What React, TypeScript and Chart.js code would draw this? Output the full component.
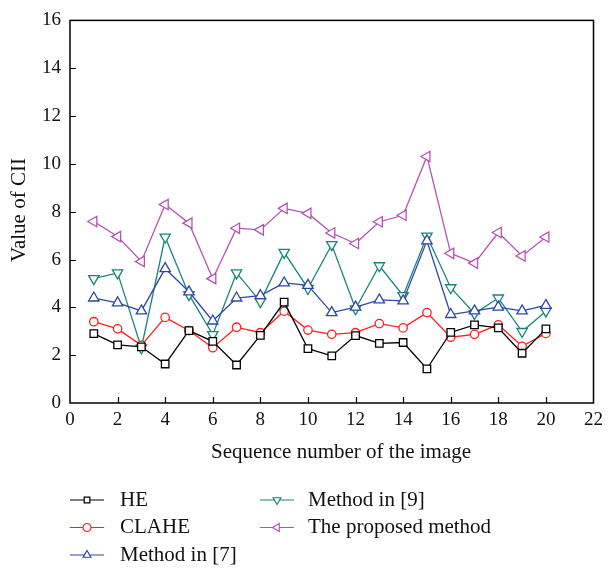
import React, { useEffect, useRef } from "react";
import { Chart, registerables } from "chart.js";

Chart.register(...registerables);

const sequence = [1, 2, 3, 4, 5, 6, 7, 8, 9, 10, 11, 12, 13, 14, 15, 16, 17, 18, 19, 20];
const heValues = [2.9, 2.43, 2.35, 1.63, 3.03, 2.58, 1.59, 2.83, 4.22, 2.27, 1.97, 2.82, 2.49, 2.53, 1.43, 2.95, 3.27, 3.14, 2.08, 3.1];
const claheValues = [3.4, 3.1, 2.41, 3.58, 3.03, 2.31, 3.17, 2.94, 3.84, 3.05, 2.87, 2.94, 3.32, 3.14, 3.78, 2.75, 2.87, 3.27, 2.37, 2.91];
const method7Values = [4.39, 4.19, 3.85, 5.62, 4.65, 3.43, 4.39, 4.49, 5.02, 4.92, 3.78, 4.01, 4.31, 4.27, 6.78, 3.7, 3.85, 4.01, 3.85, 4.08];
const method9Values = [5.2, 5.44, 2.3, 6.94, 4.53, 2.86, 5.44, 4.24, 6.3, 4.79, 6.62, 3.94, 5.74, 4.49, 6.98, 4.82, 3.74, 4.39, 2.99, 3.84];
const proposedValues = [7.59, 6.96, 5.92, 8.3, 7.52, 5.2, 7.31, 7.24, 8.14, 7.93, 7.11, 6.67, 7.58, 7.85, 10.31, 6.26, 5.85, 7.13, 6.15, 6.94];

const seriesNames = ["HE", "CLAHE", "Method in [7]", "Method in [9]", "The proposed method"];
const seriesValues = [heValues, claheValues, method7Values, method9Values, proposedValues];
const seriesColors = ["#000000", "#ff2020", "#2d47a6", "#17857c", "#b452b4"];
const seriesMarkers = ["rect", "circle", "triangle", "triangle", "triangle"];
const seriesRotation = [0, 0, 0, 180, -90];

const xAxisTitle = "Sequence number of the image";
const yAxisTitle = "Value of CII";

const FONT = "'Liberation Serif', 'DejaVu Serif', serif";

function drawMarker(ctx: CanvasRenderingContext2D, style: string, rot: number, x: number, y: number, r: number) {
  ctx.save();
  ctx.translate(x, y);
  ctx.rotate((rot * Math.PI) / 180);
  ctx.beginPath();
  if (style === "rect") {
    const s = r * Math.SQRT1_2;
    ctx.rect(-s, -s, 2 * s, 2 * s);
  } else if (style === "circle") {
    ctx.arc(0, 0, r, 0, Math.PI * 2);
  } else {
    const a = Math.PI / 2;
    for (let k = 0; k < 3; k++) {
      const ang = -a + (k * 2 * Math.PI) / 3;
      const px = Math.cos(ang) * r;
      const py = Math.sin(ang) * r;
      if (k === 0) ctx.moveTo(px, py);
      else ctx.lineTo(px, py);
    }
    ctx.closePath();
  }
  ctx.fillStyle = "#fff";
  ctx.fill();
  ctx.stroke();
  ctx.restore();
}

export default function App() {
  const ref = useRef<HTMLCanvasElement>(null);
  useEffect(() => {
    document.body.style.margin = "0";
    const canvas = ref.current;
    if (!canvas) return;

    const framePlugin = {
      id: "frameAndLegend",
      afterDraw(chart: any) {
        const { ctx, chartArea: a, scales } = chart;
        ctx.save();
        ctx.strokeStyle = "#000";
        ctx.lineWidth = 1.5;
        ctx.strokeRect(a.left, a.top, a.right - a.left, a.bottom - a.top);
        ctx.lineWidth = 1.2;
        ctx.beginPath();
        for (let v = 2; v < 22; v += 2) {
          const px = Math.round(scales.x.getPixelForValue(v)) + 0.5;
          ctx.moveTo(px, a.bottom);
          ctx.lineTo(px, a.bottom - 6);
        }
        for (let v = 2; v < 16; v += 2) {
          const py = Math.round(scales.y.getPixelForValue(v)) + 0.5;
          ctx.moveTo(a.left, py);
          ctx.lineTo(a.left + 6, py);
        }
        ctx.stroke();

        // axis titles
        ctx.fillStyle = "#111";
        ctx.font = `21px ${FONT}`;
        ctx.textAlign = "center";
        ctx.textBaseline = "middle";
        ctx.fillText(xAxisTitle, 341, 452);
        ctx.save();
        ctx.translate(19, 210);
        ctx.rotate(-Math.PI / 2);
        ctx.fillText(yAxisTitle, 0, 0);
        ctx.restore();

        // legend
        ctx.textAlign = "left";
        chart.data.datasets.forEach((ds: any, i: number) => {
          const col = i < 3 ? 0 : 1;
          const row = i < 3 ? i : i - 3;
          const x0 = col === 0 ? 70 : 260;
          const y = 500 + row * 27.5;
          ctx.strokeStyle = ds.borderColor;
          ctx.lineWidth = 1.2;
          ctx.beginPath();
          ctx.moveTo(x0, y);
          ctx.lineTo(x0 + 34, y);
          ctx.stroke();
          drawMarker(ctx, seriesMarkers[i], seriesRotation[i], x0 + 17, y, i >= 2 ? 4.5 : 4);
          ctx.fillStyle = "#111";
          ctx.fillText(ds.label, col === 0 ? 120 : 308, y);
        });
        ctx.restore();
      },
    };

    const chart = new Chart(canvas, {
      type: "line",
      data: {
        datasets: seriesNames.map((name, i) => ({
          label: name,
          data: sequence.map((s, j) => ({ x: s, y: seriesValues[i][j] })),
          borderColor: seriesColors[i],
          backgroundColor: "#ffffff",
          pointBackgroundColor: "#ffffff",
          pointBorderColor: seriesColors[i],
          borderWidth: 1.3,
          pointBorderWidth: 1.3,
          pointStyle: seriesMarkers[i] as any,
          pointRotation: seriesRotation[i],
          pointRadius: i === 0 ? 5.3 : i === 1 ? 4.2 : 6,
          tension: 0,
        })),
      },
      options: {
        responsive: false,
        animation: false,
        layout: { padding: { top: 12, right: 9, left: 0, bottom: 0 } },
        plugins: { legend: { display: false }, tooltip: { enabled: false } },
        scales: {
          x: {
            type: "linear",
            min: 0,
            max: 22,
            grid: { display: false, drawTicks: false },
            border: { display: false },
            ticks: { stepSize: 2, padding: 6, color: "#111", font: { family: FONT, size: 19 } },
            afterFit: (s: any) => {
              s.height = 170;
            },
          },
          y: {
            min: 0,
            max: 16,
            grid: { display: false, drawTicks: false },
            border: { display: false },
            ticks: { stepSize: 2, padding: 9, color: "#111", font: { family: FONT, size: 19 } },
            afterFit: (s: any) => {
              s.width = 70;
            },
          },
        },
      },
      plugins: [framePlugin],
    });
    return () => chart.destroy();
  }, []);
  return (
    <div style={{ width: 609, height: 573 }}>
      <canvas ref={ref} width={609} height={573} />
    </div>
  );
}
